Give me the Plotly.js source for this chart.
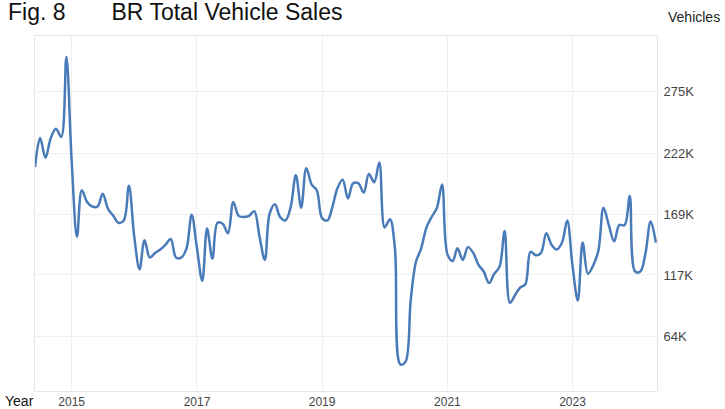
<!DOCTYPE html>
<html>
<head>
<meta charset="utf-8">
<script src="https://cdn.plot.ly/plotly-3.0.1.min.js"></script>
<style>
  html, body { margin: 0; padding: 0; background: #fff; }
  #chart { width: 725px; height: 409px; }
</style>
</head>
<body>
<div id="chart"></div>
<script>
// Monthly total vehicle sales (thousands)
const sales2014 = [210, 235, 218, 235, 243, 236, 305];            // Jun..Dec
const sales2015 = [215, 150, 190, 180, 176, 176, 187, 174, 168, 162, 164, 194];
const sales2016 = [150, 122, 147, 132, 136, 139, 143, 148, 132, 132, 140, 169];
const sales2017 = [140, 112, 157, 131, 162, 161, 153, 180, 168, 167, 168, 172];
const sales2018 = [150, 130, 170, 178, 167, 164, 175, 203, 175, 209, 195, 190];
const sales2019 = [166, 164, 175, 192, 199, 183, 196, 196, 188, 204, 197, 214];
const sales2020 = [158, 165, 140, 40, 42, 95, 128, 140, 158, 167, 175, 195];
const sales2021 = [135, 129, 140, 130, 141, 136, 126, 120, 110, 118, 124, 155];
const sales2022 = [93, 100, 106, 109, 137, 134, 136, 153, 143, 139, 145, 164];
const sales2023 = [125, 95, 145, 118, 125, 138, 175, 160, 146, 160, 160, 185];
const sales2024 = [120, 120, 135, 163, 145];                       // Jan..May

const yearTicks = ['2015', '2017', '2019', '2021', '2023'];
const valueTicks = [64000, 117000, 169000, 222000, 275000];
const valueLabels = ['64K', '117K', '169K', '222K', '275K'];

// build monthly date / value series
const years = [
    { year: 2014, firstMonth: 6, values: sales2014 },
    { year: 2015, firstMonth: 1, values: sales2015 },
    { year: 2016, firstMonth: 1, values: sales2016 },
    { year: 2017, firstMonth: 1, values: sales2017 },
    { year: 2018, firstMonth: 1, values: sales2018 },
    { year: 2019, firstMonth: 1, values: sales2019 },
    { year: 2020, firstMonth: 1, values: sales2020 },
    { year: 2021, firstMonth: 1, values: sales2021 },
    { year: 2022, firstMonth: 1, values: sales2022 },
    { year: 2023, firstMonth: 1, values: sales2023 },
    { year: 2024, firstMonth: 1, values: sales2024 }
];

const dates = [];
const values = [];
years.forEach(y => {
    y.values.forEach((v, i) => {
        const month = String(y.firstMonth + i).padStart(2, '0');
        dates.push(`${y.year}-${month}-01`);
        values.push(v * 1000);
    });
});

const trace = {
    x: dates,
    y: values,
    type: 'scatter',
    mode: 'lines',
    line: { color: '#4a7bb9', width: 2.5, shape: 'spline', smoothing: 1 },
    hoverinfo: 'x+y'
};

const font = 'Liberation Sans, Arial, sans-serif';

const layout = {
    width: 725,
    height: 409,
    margin: { l: 35, r: 68, t: 36, b: 18 },
    paper_bgcolor: 'white',
    plot_bgcolor: 'white',
    showlegend: false,
    font: { family: font, color: '#444' },
    title: {
        text: 'Fig. 8\u2003\u2003BR Total Vehicle Sales',
        font: { family: font, size: 23, color: '#111' },
        xref: 'container', yref: 'container',
        x: 0.011, xanchor: 'left',
        y: 0.97, yanchor: 'middle'
    },
    xaxis: {
        type: 'date',
        range: ['2014-06-01', '2024-05-08'],
        tickvals: yearTicks.map(y => `${y}-01-01`),
        ticktext: yearTicks,
        tickfont: { size: 12, color: '#444' },
        ticklabelstandoff: 0,
        showgrid: true,
        gridcolor: '#efefef',
        showline: true,
        linecolor: '#e6e6e6',
        mirror: true,
        zeroline: false,
        ticks: ''
    },
    yaxis: {
        side: 'right',
        range: [17000, 323000],
        tickvals: valueTicks,
        ticktext: valueLabels,
        tickfont: { size: 13, color: '#444' },
        ticklabelstandoff: 3,
        showgrid: true,
        gridcolor: '#efefef',
        showline: true,
        linecolor: '#e6e6e6',
        mirror: true,
        zeroline: false,
        ticks: ''
    },
    annotations: [
        {
            text: 'Vehicles',
            xref: 'paper', yref: 'paper',
            x: 1.1045, xanchor: 'right',
            y: 1.0535, yanchor: 'middle',
            showarrow: false,
            font: { family: font, size: 14, color: '#222' }
        },
        {
            text: 'Year',
            xref: 'paper', yref: 'paper',
            x: -0.0514, xanchor: 'left',
            y: -0.027, yanchor: 'middle',
            showarrow: false,
            font: { family: font, size: 14, color: '#111' }
        }
    ]
};

Plotly.newPlot('chart', [trace], layout, { displayModeBar: false, staticPlot: true });
</script>
</body>
</html>
